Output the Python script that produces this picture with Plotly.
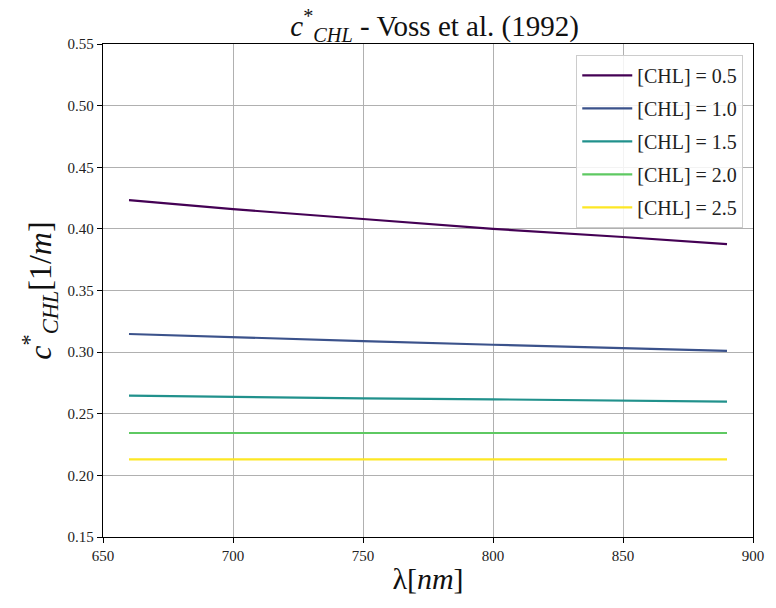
import plotly.graph_objects as go

wavelength = [660, 700, 750, 800, 850, 890]
chl_labels = ["[CHL] = 0.5", "[CHL] = 1.0", "[CHL] = 1.5", "[CHL] = 2.0", "[CHL] = 2.5"]
c_chl_05 = [0.4234, 0.4160, 0.4080, 0.4000, 0.3934, 0.3877]
c_chl_10 = [0.3147, 0.3120, 0.3090, 0.3060, 0.3030, 0.3010]
c_chl_15 = [0.2647, 0.2635, 0.2625, 0.2617, 0.2605, 0.2598]
c_chl_20 = [0.2344, 0.2344, 0.2344, 0.2344, 0.2344, 0.2344]
c_chl_25 = [0.2130, 0.2130, 0.2130, 0.2130, 0.2130, 0.2130]
series = [c_chl_05, c_chl_10, c_chl_15, c_chl_20, c_chl_25]
colors = ["#440154", "#3b528b", "#21918c", "#5ec962", "#fde725"]

FONT = "Liberation Serif, DejaVu Serif, serif"

fig = go.Figure()
for i, (lab, ys, col) in enumerate(zip(chl_labels, series, colors)):
    fig.add_trace(go.Scatter(x=wavelength, y=ys, mode="lines", name=lab,
                             legendgroup=f"g{i}",
                             line=dict(color=col, width=2.2)))

axis_common = dict(
    showline=True, linecolor="black", linewidth=1.3, mirror=True,
    ticks="outside", ticklen=5, tickcolor="black", tickwidth=1.2,
    showgrid=True, gridcolor="#b0b0b0", gridwidth=1,
    zeroline=False, tickfont=dict(family=FONT, size=15, color="#222"),
)

fig.update_layout(
    width=776, height=608,
    margin=dict(l=103, r=16, t=44, b=71),
    paper_bgcolor="white", plot_bgcolor="white",
    title=dict(text="<i>c</i><sup>*</sup><sub><i>CHL</i></sub> - Voss et al. (1992)",
               x=0.56, xanchor="center", y=0.975, yanchor="top",
               font=dict(family=FONT, size=29, color="#111")),
    xaxis=dict(range=[650, 900], tickvals=[650, 700, 750, 800, 850, 900],
               title=dict(text="λ[<i>nm</i>]", font=dict(family=FONT, size=30, color="#111"),
                          standoff=4),
               **axis_common),
    yaxis=dict(range=[0.15, 0.55], tickvals=[0.15, 0.2, 0.25, 0.3, 0.35, 0.4, 0.45, 0.5, 0.55],
               tickformat=".2f",
               title=dict(text="<i>c</i><sup>*</sup><sub><i>CHL</i></sub>[1/<i>m</i>]",
                          font=dict(family=FONT, size=32, color="#111"), standoff=6),
               **axis_common),
    legend=dict(x=0.985, y=0.978, xanchor="right", yanchor="top",
                bgcolor="rgba(255,255,255,0.85)", bordercolor="#cccccc", borderwidth=1,
                font=dict(family=FONT, size=20, color="#222"),
                itemwidth=50, tracegroupgap=4),
    showlegend=True,
)

fig.write_html("out.html")
